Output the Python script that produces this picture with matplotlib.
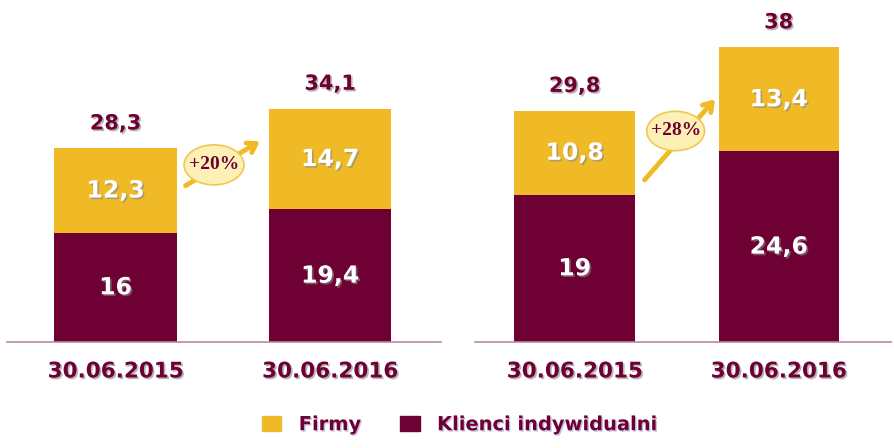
import matplotlib.pyplot as plt
import matplotlib.patheffects as pe
from matplotlib.patches import Ellipse, Patch

# data
dates = ["30.06.2015", "30.06.2016"]
klienci_a = [16, 19.4]
firmy_a = [12.3, 14.7]
total_a = [28.3, 34.1]
growth_a = "+20%"
klienci_b = [19, 24.6]
firmy_b = [10.8, 13.4]
total_b = [29.8, 38]
growth_b = "+28%"

MAROON = "#6e0033"
YELLOW = "#f0ba26"

def fmt(v):
    return ("%g" % v).replace(".", ",")

shadow = [pe.SimplePatchShadow(offset=(1.2, -1.2), shadow_rgbFace="#888888", alpha=0.6), pe.Normal()]

fig = plt.figure(figsize=(8.94, 4.48), dpi=100)
ax1 = fig.add_axes([0.0078, 0.2366, 0.4855, 0.7634])
ax2 = fig.add_axes([0.531, 0.2366, 0.4653, 0.7634])

# (axes, klienci, firmy, total, growth, bar width, xlim, ymax, arrow start/end, ellipse centre, ellipse size) - arrows in axes fractions
panels = [
    (ax1, klienci_a, firmy_a, total_a, growth_a, 0.569, (-0.506, 1.517), 50.0,
     ((0.406, 0.453), (0.588, 0.591)), (0.477, 0.518), (0.138, 0.117)),
    (ax2, klienci_b, firmy_b, total_b, growth_b, 0.59, (-0.49, 1.549), 44.1,
     ((0.404, 0.468), (0.582, 0.716)), (0.483, 0.617), (0.139, 0.115)),
]

for ax, kl, fi, tot, gr, w, xl, ymax, arr, ell, esize in panels:
    x = range(len(dates))
    ax.bar(x, kl, width=w, color=MAROON, zorder=2)
    ax.bar(x, fi, width=w, bottom=kl, color=YELLOW, zorder=2)
    for i in x:
        ax.text(i, kl[i] / 2, fmt(kl[i]), ha="center", va="center", color="white",
                fontsize=17, fontweight="bold", path_effects=shadow, zorder=3)
        ax.text(i, kl[i] + fi[i] / 2, fmt(fi[i]), ha="center", va="center", color="white",
                fontsize=17, fontweight="bold", path_effects=shadow, zorder=3)
        ax.annotate(fmt(tot[i]), (i, tot[i]), xytext=(0, 18), textcoords="offset points",
                    ha="center", va="center", color=MAROON, fontsize=15, fontweight="bold",
                    path_effects=shadow)
    ax.set_xlim(*xl)
    ax.set_ylim(0, ymax)
    ax.set_xticks(list(x))
    ax.set_xticklabels(dates, fontsize=15.5, fontweight="bold", color=MAROON)
    for t in ax.get_xticklabels():
        t.set_path_effects(shadow)
    ax.tick_params(axis="x", length=0, pad=14)
    ax.set_yticks([])
    for s in ["top", "left", "right"]:
        ax.spines[s].set_visible(False)
    ax.spines["bottom"].set_color("#b98aa0")
    ax.spines["bottom"].set_linewidth(1.2)

    # growth arrow with ellipse
    ax.annotate("", xy=arr[1], xytext=arr[0], xycoords="axes fraction",
                textcoords="axes fraction",
                arrowprops=dict(arrowstyle="->,head_length=0.6,head_width=0.4",
                                color=YELLOW, lw=3.5), zorder=4)
    e = Ellipse(ell, width=esize[0], height=esize[1], transform=ax.transAxes,
                facecolor="#fdf0b6", edgecolor="#f0c850", lw=1.2, zorder=5)
    ax.add_patch(e)
    ax.text(ell[0], ell[1], gr, transform=ax.transAxes, ha="center", va="center",
            fontsize=14, fontweight="bold", family="Liberation Serif", color=MAROON, zorder=6)

handles = [Patch(color=YELLOW), Patch(color=MAROON)]
leg = fig.legend(handles, ["Firmy", "Klienci indywidualni"], loc="center",
                 bbox_to_anchor=(0.514, 0.052), ncol=2, frameon=False,
                 prop={"weight": "bold", "size": 14}, handlelength=1.0, handleheight=0.75,
                 columnspacing=2.0, handletextpad=0.9)
for t in leg.get_texts():
    t.set_color(MAROON)
    t.set_path_effects([pe.SimplePatchShadow(offset=(1, -1), shadow_rgbFace="#9999cc", alpha=0.6), pe.Normal()])

fig.savefig("out.png", dpi=100)
